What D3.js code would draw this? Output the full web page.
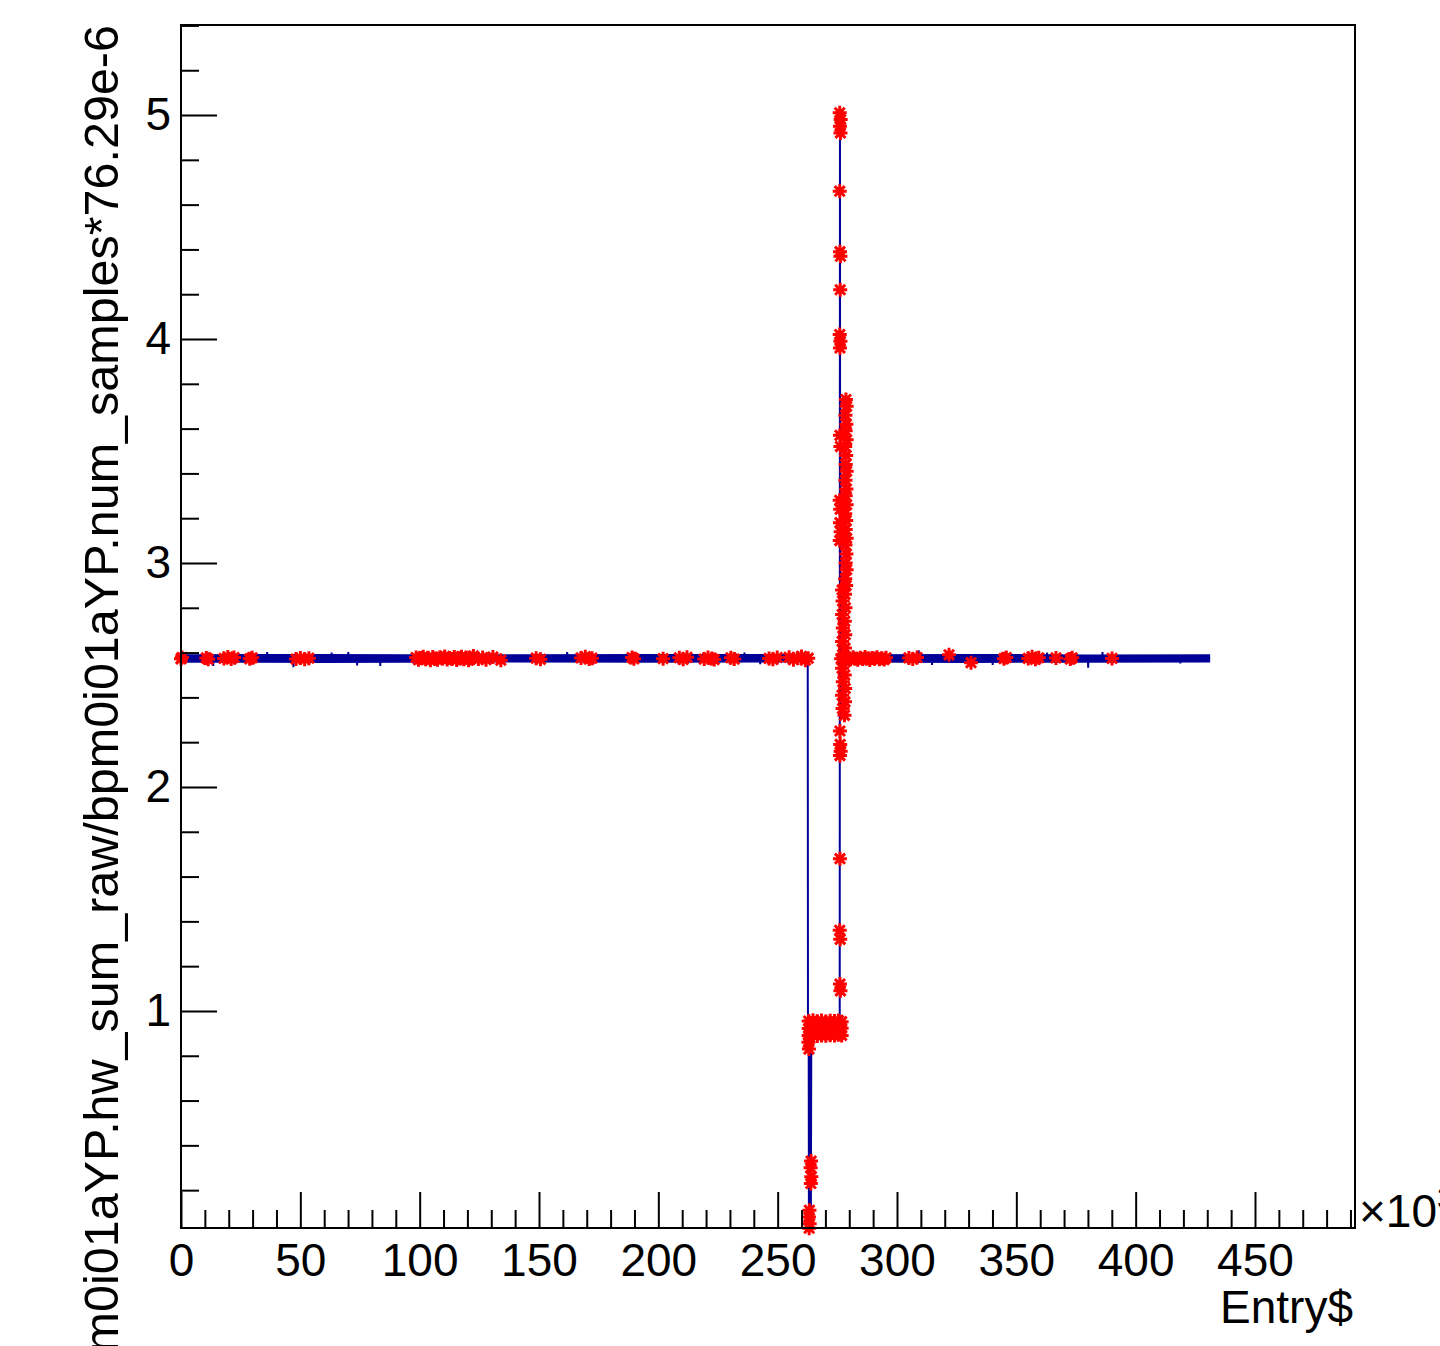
<!DOCTYPE html>
<html><head><meta charset="utf-8">
<script src="https://cdn.jsdelivr.net/npm/d3@7"></script>
<style>body{margin:0;background:#fff}svg{display:block}</style>
</head><body>
<svg id="c" width="1440" height="1346"></svg>
<script>
// ---------------- data (Entry$ in units of 10^3) ----------------
const xMajorTicks = [0, 50, 100, 150, 200, 250, 300, 350, 400, 450];
const yMajorTicks = [1, 2, 3, 4, 5];
const xTitle = "Entry$";
const yTitle = "bpm0i01aYP.hw_sum_raw/bpm0i01aYP.num_samples*76.29e-6";
const xExponent = "3";

// envelope of the noisy baseline of the blue trace (null = gap)
const bandEntries = [0, 60, 130, 200, 262.6, null, 276.4, 330, 380, 431.2];
const bandLow     = [2.555, 2.554, 2.556, 2.555, 2.556, null, 2.556, 2.554, 2.555, 2.556];
const bandHigh    = [2.593, 2.594, 2.592, 2.594, 2.593, null, 2.593, 2.594, 2.592, 2.593];

// blue trace [entry, value]
const blueTrace = [
  [0,2.574],[13.4,2.574],[13.5,2.540],[13.6,2.574],[36.0,2.574],[36.1,2.603],[36.2,2.574],
  [47.0,2.574],[47.1,2.535],[47.2,2.574],[63.0,2.574],[63.1,2.600],[63.2,2.574],
  [70.0,2.574],[70.1,2.603],[70.2,2.574],[73.7,2.574],[73.8,2.542],[73.9,2.574],
  [83.4,2.574],[83.5,2.540],[83.6,2.574],[161.7,2.574],[161.8,2.603],[161.9,2.574],
  [236.0,2.574],[236.1,2.600],[236.2,2.574],[242.6,2.574],[242.7,2.548],[242.8,2.574],
  [262.6,2.574],[262.7,0.93],[263.0,0.88],[263.1,0.05],[263.3,0.90],[263.5,0.06],
  [263.7,0.91],[263.9,0.05],[264.1,0.92],[270.0,0.93],[276.0,0.93],[276.1,5.00],
  [276.2,2.30],[276.3,3.70],[276.4,2.574],
  [309.0,2.574],[309.1,2.610],[309.2,2.574],[314.6,2.574],[314.7,2.545],[314.8,2.574],
  [340.0,2.574],[340.1,2.545],[340.2,2.574],[362.8,2.574],[362.9,2.600],[363.0,2.574],
  [380.0,2.574],[380.1,2.533],[380.2,2.574],[386.0,2.574],[386.1,2.603],[386.2,2.574],
  [418.6,2.574],[418.7,2.552],[418.8,2.574],[431.2,2.574]
];

// red markers on the baseline [entry, value]
const redBaseline = [
  [0.0,2.572],[0.4,2.578],
  [10.6,2.576],[11.4,2.570],
  [18.0,2.574],[19.6,2.580],[21.0,2.571],[22.2,2.578],
  [28.8,2.572],[29.8,2.577],
  [48.2,2.571],[50.0,2.576],[51.8,2.570],[53.6,2.575],
  [98.5,2.578],[99.5,2.568],[100.5,2.576],[101.5,2.582],[102.5,2.570],[103.5,2.577],
  [104.5,2.566],[105.5,2.580],[106.5,2.573],[107.5,2.568],[108.5,2.579],[109.5,2.574],
  [110.5,2.583],[111.5,2.569],[112.5,2.576],[113.5,2.571],[114.5,2.580],[115.5,2.567],
  [116.5,2.575],[117.5,2.582],[118.5,2.570],[119.5,2.578],[120.5,2.566],[121.5,2.574],
  [122.5,2.585],
  [124.6,2.571],[126.4,2.578],[127.8,2.568],[130.7,2.580],[134.0,2.566],
  [148.8,2.575],[150.6,2.570],
  [167.6,2.576],[169.4,2.582],[171.0,2.571],[172.2,2.575],
  [189.0,2.578],[189.8,2.572],
  [202.0,2.573],
  [208.8,2.577],[210.4,2.570],[212.0,2.579],
  [219.2,2.571],[220.8,2.578],[222.4,2.574],[223.4,2.569],
  [230.4,2.577],[231.8,2.571],
  [246.4,2.574],[248.0,2.570],[249.8,2.578],
  [254.8,2.579],[256.6,2.568],[258.4,2.576],[260.0,2.583],[261.6,2.566],[262.8,2.575],
  [276.6,2.572],[277.6,2.582],[278.6,2.566],[279.6,2.576],[280.6,2.570],[281.6,2.579],
  [282.6,2.573],[283.6,2.568],[284.6,2.577],[285.6,2.571],[286.6,2.580],[287.6,2.574],
  [288.6,2.567],[289.6,2.576],[290.6,2.572],[291.6,2.579],[292.6,2.570],[293.6,2.575],
  [294.6,2.569],[295.4,2.577],
  [305.0,2.576],[306.6,2.571],[308.4,2.578],
  [321.8,2.590],
  [331.0,2.555],
  [344.8,2.573],[345.8,2.578],
  [355.0,2.574],[356.6,2.581],[358.0,2.570],[359.4,2.577],
  [366.6,2.576],
  [372.6,2.571],[373.4,2.577],
  [390.1,2.574]
];

// red markers of the spike [entry, value]
const redSpike = [
  [276.0,5.01],[276.4,4.98],[276.1,4.95],[276.3,4.92],
  [276.0,4.66],
  [276.1,4.39],[276.3,4.37],
  [276.2,4.22],
  [276.0,4.02],[276.3,3.99],[276.1,3.96],
  [278.6,3.73],[278.9,3.70],[278.4,3.66],[278.8,3.62],[278.5,3.59],[278.9,3.55],
  [278.3,3.52],[278.7,3.48],[278.5,3.44],[278.9,3.41],[278.4,3.37],[278.8,3.33],
  [278.5,3.30],[278.9,3.26],[278.3,3.22],[278.7,3.19],[278.5,3.15],[278.9,3.11],
  [278.4,3.08],[278.8,3.04],[278.5,3.00],[278.9,2.97],[278.3,2.93],[278.7,2.90],
  [276.1,3.57],[276.3,3.52],[276.0,3.28],[276.2,3.24],[276.1,3.18],[276.4,3.14],[276.0,3.10],
  [277.0,2.88],[278.2,2.86],[277.2,2.83],[278.4,2.80],[277.0,2.77],[278.1,2.74],
  [277.3,2.71],[278.3,2.68],[277.0,2.65],[278.2,2.62],[277.2,2.59],[278.4,2.56],
  [277.0,2.53],[278.1,2.50],[277.3,2.47],[278.3,2.44],[277.0,2.41],[278.2,2.38],
  [277.2,2.35],[278.0,2.32],
  [276.1,2.25],[276.2,2.19],[276.4,2.16],[276.1,2.14],
  [276.1,1.68],[276.0,1.36],[276.2,1.32],[276.1,1.12],[276.3,1.09]
];

// red markers of the low plateau and the dip [entry, value]
const redLow = [
  [263.0,0.955],[264.8,0.958],[266.6,0.954],[268.4,0.957],[270.2,0.953],[272.0,0.956],[273.8,0.955],[275.4,0.957],[276.8,0.952],
  [263.0,0.922],[264.8,0.920],[266.6,0.924],[268.4,0.921],[270.2,0.923],[272.0,0.919],[273.8,0.922],[275.4,0.920],[276.8,0.923],
  [263.0,0.890],[264.8,0.893],[266.6,0.888],[268.4,0.891],[270.2,0.889],[272.0,0.892],[273.8,0.890],[275.4,0.894],[276.8,0.891],
  [262.9,0.86],[263.1,0.83],
  [264.0,0.33],[263.8,0.30],[264.1,0.26],[263.9,0.23],
  [263.3,0.11],[263.1,0.08],[263.4,0.05],[263.2,0.03]
];

// ---------------- drawing ----------------
const BLUE = "#000099", RED = "#ff0000";
const FONT = "'Liberation Sans', Arial, Helvetica, sans-serif";
const svg = d3.select("#c");
const x = d3.scaleLinear().domain([0, 491.9]).range([181, 1355]);
const y = d3.scaleLinear().domain([0.031, 5.402]).range([1228, 25]);

svg.append("rect").attr("width",1440).attr("height",1346).attr("fill","#fff");

// blue band + trace
const band = bandEntries.map((e,i)=>({e, lo:bandLow[i], hi:bandHigh[i]}));
svg.append("path").datum(band)
  .attr("d", d3.area().defined(d=>d.e!==null).x(d=>x(d.e)).y0(d=>y(d.lo)).y1(d=>y(d.hi)))
  .attr("fill", BLUE);
svg.append("path").datum(blueTrace)
  .attr("d", d3.line().x(d=>x(d[0])).y(d=>y(d[1])))
  .attr("fill","none").attr("stroke",BLUE).attr("stroke-width",2);

// red star markers
const r = 7, dd = r*0.72;
const star = `M${-r},0L${r},0M0,${-r}L0,${r}M${-dd},${-dd}L${dd},${dd}M${-dd},${dd}L${dd},${-dd}`;
const allRed = redBaseline.concat(redSpike, redLow);
svg.append("g").selectAll("path").data(allRed).join("path")
  .attr("transform", d=>`translate(${x(d[0])},${y(d[1])})`)
  .attr("d", star).attr("fill","none").attr("stroke",RED).attr("stroke-width",3);

// axes
function styleAxis(g){
  g.select(".domain").remove();
  g.selectAll("line").attr("stroke","#000").attr("stroke-width",2);
  g.attr("font-family", FONT).attr("font-size", 46);
  g.selectAll("text").attr("fill","#000");
}
svg.append("g").attr("transform","translate(0,1228)")
  .call(d3.axisBottom(x).tickValues(d3.range(0,491,10).filter(v=>v%50!==0)).tickSize(-18).tickFormat(""))
  .call(styleAxis);
svg.append("g").attr("transform","translate(0,1228)")
  .call(d3.axisBottom(x).tickValues(xMajorTicks).tickSize(-36).tickPadding(15).tickFormat(d3.format("d")))
  .call(styleAxis);
svg.append("g").attr("transform","translate(181,0)")
  .call(d3.axisLeft(y).tickValues(d3.range(2,55,2).map(v=>v/10).filter(v=>v%1!==0 && v<5.402)).tickSize(-18).tickFormat(""))
  .call(styleAxis);
svg.append("g").attr("transform","translate(181,0)")
  .call(d3.axisLeft(y).tickValues(yMajorTicks).tickSize(-36).tickPadding(10).tickFormat(d3.format("d")))
  .call(styleAxis);

// frame
svg.append("rect").attr("x",181).attr("y",25).attr("width",1174).attr("height",1203)
  .attr("fill","none").attr("stroke","#000").attr("stroke-width",2);

// titles
svg.append("text").attr("x",1353).attr("y",1323).attr("text-anchor","end")
  .attr("font-family",FONT).attr("font-size",46).text(xTitle);
const ex = svg.append("text").attr("x",1359).attr("y",1227)
  .attr("font-family",FONT).attr("font-size",46);
ex.append("tspan").text("\u00d710");
ex.append("tspan").attr("dy",-18).attr("font-size",32).text(xExponent);
svg.append("text").attr("transform","translate(118,25) rotate(-90)").attr("text-anchor","end")
  .attr("font-family",FONT).attr("font-size",48.5).text(yTitle);
</script>
</body></html>
